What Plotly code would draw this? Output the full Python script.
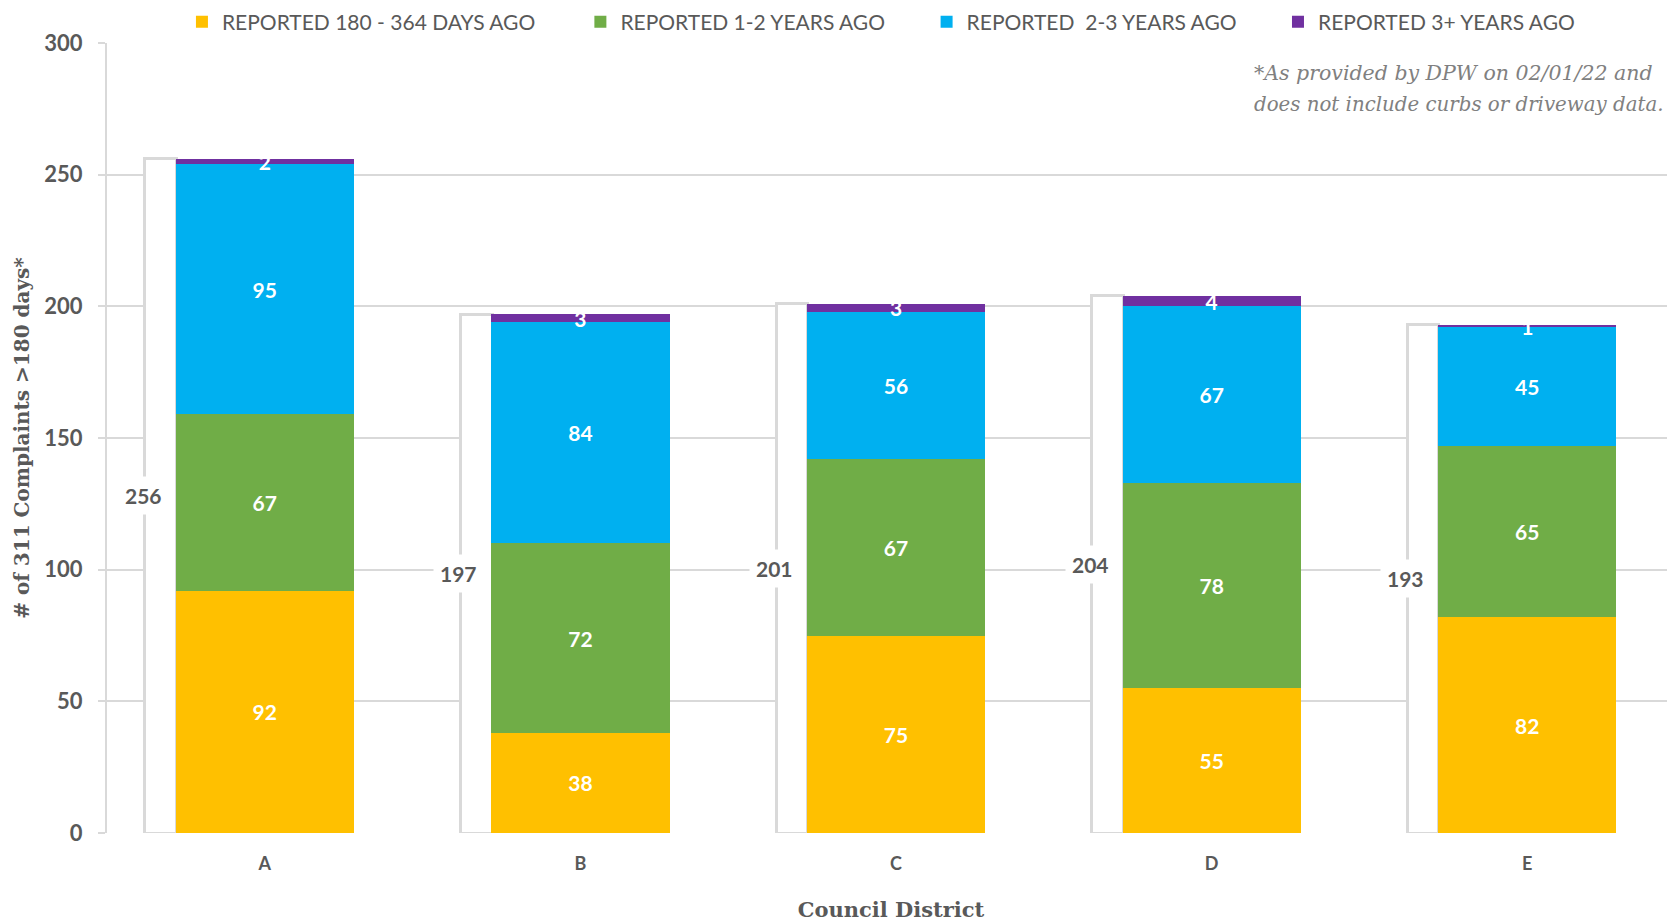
import numpy as np
import plotly.graph_objects as go

categories = ["A", "B", "C", "D", "E"]
days_180_364 = [92, 38, 75, 55, 82]
years_1_2 = [67, 72, 67, 78, 65]
years_2_3 = [95, 84, 56, 67, 45]
years_3_plus = [2, 3, 3, 4, 1]
totals = [256, 197, 201, 204, 193]

series = [
    ("REPORTED 180 - 364 DAYS AGO", days_180_364, "#FFC000"),
    ("REPORTED 1-2 YEARS AGO", years_1_2, "#70AD47"),
    ("REPORTED  2-3 YEARS AGO", years_2_3, "#00B0F0"),
    ("REPORTED 3+ YEARS AGO", years_3_plus, "#7030A0"),
]
legend_ids = ["legend", "legend2", "legend3", "legend4"]
legend_x = [0.0478, 0.3019, 0.5227, 0.7468]

idx = np.arange(len(categories))
GRAY = "#595959"
LINE = "#d9d9d9"
SANS = "Lato"
SERIF = "DejaVu Serif"

fig = go.Figure()

# total outline bars (behind, offset to the left)
fig.add_trace(go.Bar(
    x=idx - 0.33, y=totals, width=0.1,
    marker=dict(color="white", line=dict(color=LINE, width=3)),
    showlegend=False, hoverinfo="skip",
))

for (name, vals, color), lg in zip(series, legend_ids):
    fig.add_trace(go.Bar(
        x=idx, y=vals, name=name, width=0.565, legend=lg,
        marker=dict(color=color, line=dict(width=0)),
        text=[str(v) for v in vals], textposition="inside", textangle=0,
        insidetextanchor="middle", constraintext="none",
        textfont=dict(family=SANS, size=21, color="white", weight="bold"),
    ))

# total labels
for i, t in zip(idx, totals):
    fig.add_annotation(
        x=i - 0.385, y=t / 2, text=f"<b>{t}</b>", showarrow=False,
        font=dict(family=SANS, size=21, color=GRAY),
        bgcolor="white", borderpad=6,
    )

fig.add_annotation(
    xref="paper", yref="paper", x=0.730, y=0.9617, xanchor="left", yanchor="middle",
    text="<i>*As provided by DPW on 02/01/22 and</i>", showarrow=False,
    font=dict(family=SERIF, size=20.5, color="#808080"),
)
fig.add_annotation(
    xref="paper", yref="paper", x=0.730, y=0.9224, xanchor="left", yanchor="middle",
    text="<i>does not include curbs or driveway data.</i>", showarrow=False,
    font=dict(family=SERIF, size=19.8, color="#808080"),
)

legend_common = dict(
    orientation="h", y=1.0266, yanchor="middle", xanchor="left",
    font=dict(family=SANS, size=21, color=GRAY),
    itemwidth=30, bgcolor="rgba(0,0,0,0)", borderwidth=0,
)
legends = {lg: dict(legend_common, x=lx) for lg, lx in zip(legend_ids, legend_x)}

fig.update_layout(
    width=1675, height=921,
    barmode="stack",
    paper_bgcolor="white", plot_bgcolor="white",
    margin=dict(l=99, r=8, t=35, b=96, autoexpand=False),
    xaxis=dict(
        range=[-0.5, 4.468], tickmode="array", tickvals=idx, ticktext=categories,
        showgrid=False, zeroline=False, showline=False,
        ticks="", ticklabelstandoff=18,
        tickfont=dict(family=SANS, size=18, color=GRAY, weight="bold"),
        title=dict(text="<b>Council District</b>", standoff=29,
                   font=dict(family=SERIF, size=21, color=GRAY)),
        automargin=False,
    ),
    yaxis=dict(
        range=[0, 300], dtick=50, showgrid=True, gridcolor=LINE, gridwidth=2,
        zeroline=False, showline=True, linecolor=LINE, linewidth=2,
        ticks="outside", ticklen=7, tickcolor=LINE, tickwidth=2, ticklabelstandoff=11,
        tickfont=dict(family=SANS, size=22, color=GRAY, weight="bold"),
        title=dict(text="<b># of 311 Complaints >180 days*</b>", standoff=9,
                   font=dict(family=SERIF, size=20, color=GRAY)),
        automargin=False,
    ),
    **legends,
)

fig.write_html("out.html")
